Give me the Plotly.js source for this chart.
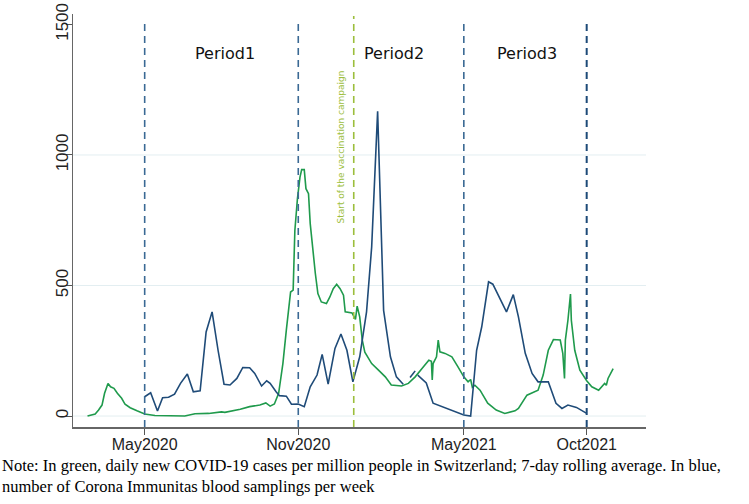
<!DOCTYPE html>
<html>
<head>
<meta charset="utf-8">
<script src="https://cdn.plot.ly/plotly-3.0.1.min.js"></script>
<style>
  html, body { margin: 0; padding: 0; background: #fff; }
  #chart { width: 749px; height: 504px; }
</style>
</head>
<body>
<div id="chart"></div>
<script>
// daily new cases per million, 7-day rolling average (green)
const caseDates = [
  '2020-02-24', '2020-03-04', '2020-03-08', '2020-03-12', '2020-03-15', '2020-03-19', '2020-03-22',
  '2020-03-26', '2020-03-30', '2020-04-04', '2020-04-08', '2020-04-14', '2020-04-22', '2020-05-01',
  '2020-05-13', '2020-05-29', '2020-06-17', '2020-06-29', '2020-07-15', '2020-07-30', '2020-08-03',
  '2020-08-21', '2020-09-01', '2020-09-13', '2020-09-20', '2020-09-25', '2020-09-30', '2020-10-05',
  '2020-10-10', '2020-10-14', '2020-10-19', '2020-10-22', '2020-10-24', '2020-10-27', '2020-10-30',
  '2020-11-01', '2020-11-04', '2020-11-06', '2020-11-09', '2020-11-11', '2020-11-14', '2020-11-17',
  '2020-11-20', '2020-11-24', '2020-11-30', '2020-12-04', '2020-12-08', '2020-12-12', '2020-12-16',
  '2020-12-20', '2020-12-22', '2020-12-30', '2021-01-03', '2021-01-05', '2021-01-08', '2021-01-11',
  '2021-01-14', '2021-01-22', '2021-01-30', '2021-02-07', '2021-02-14', '2021-02-26', '2021-03-06',
  '2021-03-14', '2021-03-22', '2021-03-30', '2021-04-02', '2021-04-03', '2021-04-04', '2021-04-08',
  '2021-04-10', '2021-04-12', '2021-04-18', '2021-04-26', '2021-05-03', '2021-05-10', '2021-05-15',
  '2021-05-18', '2021-05-20', '2021-05-23', '2021-05-29', '2021-06-07', '2021-06-17', '2021-06-27',
  '2021-07-09', '2021-07-13', '2021-07-23', '2021-08-05', '2021-08-11', '2021-08-17', '2021-08-23',
  '2021-08-31', '2021-09-03', '2021-09-05', '2021-09-06', '2021-09-09', '2021-09-12', '2021-09-13',
  '2021-09-17', '2021-09-23', '2021-10-01', '2021-10-07', '2021-10-15', '2021-10-22', '2021-10-24',
  '2021-10-26', '2021-11-01'
];
const caseValues = [
  0, 8, 23, 42, 87, 125, 112,
  106, 87, 68, 45, 32, 20, 8,
  2, 0, 0, 9, 10, 16, 14,
  26, 36, 42, 50, 38, 46, 87,
  202, 329, 475, 482, 711, 832, 915,
  944, 944, 871, 852, 737, 635, 546,
  469, 437, 431, 456, 488, 505, 488,
  463, 399, 395, 370, 421, 380, 291,
  245, 201, 176, 150, 119, 115, 125,
  150, 182, 214, 210, 138, 201, 227,
  291, 246, 240, 227, 189, 150, 131,
  140, 110, 118, 99, 49, 23, 10,
  20, 29, 80, 99, 157, 252, 293,
  291, 240, 144, 291, 367, 467, 367,
  252, 176, 135, 112, 99, 125, 118,
  144, 182
];

// weekly Corona Immunitas blood samplings (blue)
const sampleDates = [
  '2020-05-01', '2020-05-08', '2020-05-16', '2020-05-22', '2020-05-29', '2020-06-05', '2020-06-12',
  '2020-06-20', '2020-06-27', '2020-07-05', '2020-07-12', '2020-07-19', '2020-07-26', '2020-08-02',
  '2020-08-09', '2020-08-17', '2020-08-24', '2020-09-01', '2020-09-07', '2020-09-15', '2020-09-21',
  '2020-09-25', '2020-10-02', '2020-10-06', '2020-10-14', '2020-10-20', '2020-10-28', '2020-11-04',
  '2020-11-11', '2020-11-19', '2020-11-25', '2020-12-02', '2020-12-10', '2020-12-17', '2020-12-24',
  '2020-12-31', '2021-01-08', '2021-01-16', '2021-01-22', '2021-01-29', '2021-02-05', '2021-02-13',
  '2021-02-20', '2021-02-28', '2021-03-04', '2021-03-08', '2021-03-14', '2021-03-15', '2021-03-17',
  '2021-03-27', '2021-04-04', '2021-04-26', '2021-05-10', '2021-05-18', '2021-05-25', '2021-05-31',
  '2021-06-08', '2021-06-13', '2021-06-29', '2021-07-07', '2021-07-13', '2021-07-21', '2021-07-29',
  '2021-08-05', '2021-08-17', '2021-08-26', '2021-09-02', '2021-09-09', '2021-09-19', '2021-10-01'
];
const sampleValues = [
  74, 89, 19, 70, 72, 84, 125,
  161, 93, 97, 322, 399, 252, 122,
  119, 144, 186, 185, 163, 115, 135,
  125, 93, 78, 76, 45, 46, 36,
  112, 157, 236, 122, 259, 314, 252,
  131, 227, 399, 647, 1167, 405, 227,
  150, 122, null, 148, 173, null, 157,
  127, 49, 23, 4, 0, 252, 342,
  514, 505, 399, 465, 380, 240, 163,
  131, 131, 49, 29, 42, 33, 10
];

const tickDates = ['2020-05-01', '2020-10-28', '2021-05-10', '2021-10-01'];
const tickLabels = ['May2020', 'Nov2020', 'May2021', 'Oct2021'];
const yTicks = [0, 500, 1000, 1500];
const gridVals = [0, 500, 1000];

const vaccDate = '2021-01-01';
const periodNames = ['Period1', 'Period2', 'Period3'];
const periodLabelDates = ['2020-08-03', '2021-02-17', '2021-07-23'];

const noteText = 'Note: In green, daily new COVID-19 cases per million people in Switzerland; 7-day rolling average. In blue,' +
  '<br>number of Corona Immunitas blood samplings per week';

let traces = [
  {
    x: caseDates,
    y: caseValues,
    type: 'scatter',
    mode: 'lines',
    line: { color: '#1f9a4c', width: 1.6 },
    hoverinfo: 'x+y'
  },
  {
    x: sampleDates,
    y: sampleValues,
    type: 'scatter',
    mode: 'lines',
    connectgaps: false,
    line: { color: '#1f4b78', width: 1.6 },
    hoverinfo: 'x+y'
  }
];

let shapes = [];
gridVals.forEach(v => {
  shapes.push({
    type: 'line', xref: 'paper', yref: 'y', x0: 0, x1: 1, y0: v, y1: v,
    line: { color: '#e3eef1', width: 1 }, layer: 'below'
  });
});
tickDates.forEach((d, i) => {
  shapes.push({
    type: 'line', xref: 'x', yref: 'paper', x0: d, x1: d, y0: 0, y1: 0.988,
    line: { color: i == 3 ? '#1d4a78' : '#3a6994', width: i == 3 ? 2 : 1.6, dash: '7px,5px' }
  });
});
shapes.push({
  type: 'line', xref: 'x', yref: 'paper', x0: vaccDate, x1: vaccDate, y0: 0, y1: 0.995,
  line: { color: '#9cbe3c', width: 1.6, dash: '7px,5px' }
});

let annotations = periodNames.map((p, i) => ({
  x: periodLabelDates[i], y: 1388, xref: 'x', yref: 'y',
  text: p, showarrow: false,
  font: { family: 'DejaVu Sans', size: 16, color: '#111' }
}));
annotations.push({
  x: '2020-12-17', y: 1032, xref: 'x', yref: 'y',
  text: 'Start of the vaccination campaign', showarrow: false, textangle: -90,
  font: { family: 'DejaVu Sans', size: 9, color: '#9cbe3c' }
});
annotations.push({
  x: -0.1274, y: -0.066, xref: 'paper', yref: 'paper',
  xanchor: 'left', yanchor: 'top', align: 'left', showarrow: false,
  text: noteText,
  font: { family: 'Liberation Serif', size: 16.5, color: '#000' }
});

let layout = {
  width: 749,
  height: 504,
  margin: { l: 73, r: 103, t: 14, b: 77 },
  paper_bgcolor: '#fff',
  plot_bgcolor: '#fff',
  showlegend: false,
  font: { family: 'Liberation Sans', size: 16, color: '#222' },
  xaxis: {
    type: 'date',
    range: ['2020-02-07', '2021-12-09 12:00'],
    tickmode: 'array',
    tickvals: tickDates,
    ticktext: tickLabels,
    ticks: 'outside',
    ticklen: 6,
    tickcolor: '#555',
    ticklabelstandoff: -4,
    showline: true,
    linecolor: '#666',
    linewidth: 1.5,
    showgrid: false,
    zeroline: false
  },
  yaxis: {
    range: [-42, 1540],
    tickmode: 'array',
    tickvals: yTicks,
    ticks: 'outside',
    ticklen: 6,
    tickcolor: '#555',
    tickangle: -90,
    tickfont: { size: 17 },
    ticklabelstandoff: -9,
    showline: true,
    linecolor: '#666',
    linewidth: 1.5,
    showgrid: false,
    zeroline: false
  },
  shapes: shapes,
  annotations: annotations
};

Plotly.newPlot('chart', traces, layout, { staticPlot: true });
</script>
</body>
</html>
